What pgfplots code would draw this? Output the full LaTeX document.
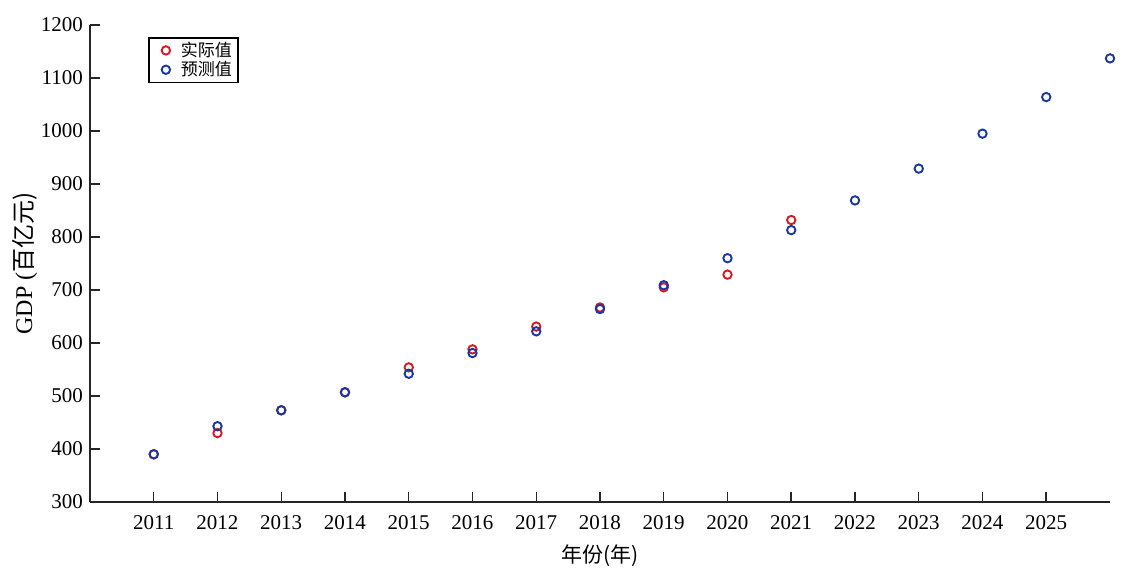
\documentclass[border=0pt]{standalone}
\usepackage{fontspec}
\setmainfont{Liberation Serif}
\newfontfamily\cjk{Noto Sans CJK SC}
\usepackage{pgfplots}
\pgfplotsset{compat=1.18}
\definecolor{cred}{RGB}{215,25,35}
\definecolor{cblue}{RGB}{25,55,160}
\begin{document}
\begin{tikzpicture}
\begin{axis}[
  name=ax,
  scale only axis,
  width=510pt, height=238.5pt,
  xmin=2010, xmax=2026,
  ymin=300, ymax=1200,
  axis x line=bottom, axis y line=left,
  axis line style={-, line width=0.9pt, black!85},
  tick style={line width=0.7pt, black!85},
  tick align=inside,
  major tick length=5pt,
  xtick={2011,...,2025},
  ytick={300,400,...,1200},
  /pgf/number format/assume math mode=true,
  /pgf/number format/1000 sep={},
  tick label style={font=\fontsize{10.5}{12}\selectfont},
  xticklabel style={yshift=-3pt},
  xlabel={\cjk 年份(年)},
  ylabel={GDP (\cjk 百亿元)},
  xlabel style={font=\fontsize{10.5}{12}\selectfont, at={(rel axis cs:0.5,0)}, anchor=north, yshift=-18pt},
  ylabel style={font=\fontsize{12}{14}\selectfont, yshift=-5pt},
  legend style={at={(rel axis cs:0.057,0.975)}, anchor=north west,
    draw=black, line width=0.8pt, font=\fontsize{8.5}{9}\selectfont,
    inner xsep=1pt, inner ysep=0pt, row sep=-3pt,
    nodes={inner sep=2pt}},
  legend image code/.code={\path (0pt,0pt) (12pt,0pt); \draw[#1] plot coordinates {(7pt,0pt)};},
  legend cell align=left,
  clip=false,
]
\addplot[only marks, mark=o, mark size=2.1pt, draw=cred, line width=0.95pt, mark options={solid}] coordinates {
(2011,390) (2012,430) (2013,473) (2014,507) (2015,554) (2016,588)
(2017,631) (2018,667) (2019,705) (2020,729) (2021,832)
};
\addlegendentry{\cjk 实际值}
\addplot[only marks, mark=o, mark size=2.1pt, draw=cblue, line width=0.95pt, mark options={solid}] coordinates {
(2011,390) (2012,443) (2013,473) (2014,507) (2015,542) (2016,581)
(2017,622) (2018,664) (2019,709) (2020,760) (2021,813) (2022,869)
(2023,929) (2024,995) (2025,1064) (2026,1137)
};
\addlegendentry{\cjk 预测值}
\end{axis}
\pgfresetboundingbox
\path[use as bounding box] (ax.south west) ++(-45pt,-34.5pt) rectangle ([xshift=7pt,yshift=12.5pt]ax.north east);
\end{tikzpicture}
\end{document}
